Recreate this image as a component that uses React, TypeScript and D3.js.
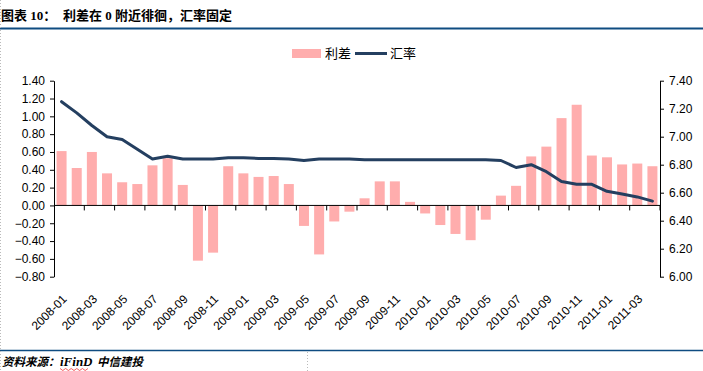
import React, { useEffect, useRef } from 'react';
import * as d3 from 'd3';

// monthly categories 2008-01 .. 2011-04
const months: string[] = [
  '2008-01', '2008-02', '2008-03', '2008-04', '2008-05', '2008-06', '2008-07', '2008-08', '2008-09', '2008-10', '2008-11', '2008-12',
  '2009-01', '2009-02', '2009-03', '2009-04', '2009-05', '2009-06', '2009-07', '2009-08', '2009-09', '2009-10', '2009-11', '2009-12',
  '2010-01', '2010-02', '2010-03', '2010-04', '2010-05', '2010-06', '2010-07', '2010-08', '2010-09', '2010-10', '2010-11', '2010-12',
  '2011-01', '2011-02', '2011-03', '2011-04',
];

// 利差 (left axis)
const spread: number[] = [
  0.61, 0.42, 0.60, 0.36, 0.26, 0.24, 0.45, 0.53, 0.23, -0.62, -0.53, 0.44,
  0.36, 0.32, 0.33, 0.24, -0.23, -0.55, -0.18, -0.07, 0.08, 0.27, 0.27, 0.04,
  -0.09, -0.22, -0.32, -0.39, -0.16, 0.11, 0.22, 0.55, 0.66, 0.98, 1.13, 0.56,
  0.54, 0.46, 0.47, 0.44,
];

// 汇率 (right axis)
const rate: number[] = [
  7.25, 7.17, 7.08, 7.00, 6.98, 6.91, 6.84, 6.86, 6.84, 6.84, 6.84, 6.85,
  6.85, 6.845, 6.845, 6.84, 6.83, 6.84, 6.84, 6.84, 6.835, 6.835, 6.835, 6.835,
  6.835, 6.835, 6.835, 6.835, 6.835, 6.83, 6.78, 6.80, 6.75, 6.68, 6.66, 6.66,
  6.61, 6.59, 6.57, 6.54,
];

const leftTicks: number[] = [-0.8, -0.6, -0.4, -0.2, 0, 0.2, 0.4, 0.6, 0.8, 1.0, 1.2, 1.4];
const rightTicks: number[] = [6.0, 6.2, 6.4, 6.6, 6.8, 7.0, 7.2, 7.4];

const titleNo = '图表 10：';
const titleText = '利差在 0 附近徘徊，汇率固定';
const sourceLabel = '资料来源：';
const sourceNames: string[] = ['iFinD', '中信建投'];

const App = () => {
  const ref = useRef<SVGSVGElement>(null);

  useEffect(() => {
    const svg = d3.select(ref.current);
    svg.selectAll('*').remove();

    const width = 703;
    const height = 371;
    const left = 54;
    const right = 660;
    const top = 80.7;
    const bottom = 276.7;
    const axisFont = 'Arial, "Liberation Sans", sans-serif';
    const headFont = '"Liberation Serif", "Noto Sans CJK SC", serif';
    const blue = '#0f4c81';

    const x = d3.scaleBand<string>()
      .domain(months)
      .range([left, right])
      .paddingInner(0.34)
      .paddingOuter(0.17);

    const yL = d3.scaleLinear().domain([-0.8, 1.4]).range([bottom, top]);
    const yR = d3.scaleLinear().domain([6.0, 7.4]).range([bottom, top]);

    svg.append('rect').attr('width', width).attr('height', height).attr('fill', '#fff');

    // header
    const head = svg.append('g')
      .attr('font-family', headFont)
      .attr('font-weight', 'bold')
      .attr('font-size', 13)
      .attr('fill', '#000');
    head.append('text').attr('x', 1).attr('y', 20).text(titleNo);
    head.append('text').attr('x', 63).attr('y', 20).text(titleText);

    svg.append('line')
      .attr('x1', 0).attr('x2', width)
      .attr('y1', 28.5).attr('y2', 28.5)
      .attr('stroke', blue)
      .attr('stroke-width', 2.2);

    // legend
    const legend = svg.append('g').attr('font-family', '"Noto Sans CJK SC", sans-serif').attr('font-size', 13);
    legend.append('rect').attr('x', 292).attr('y', 49).attr('width', 29).attr('height', 9).attr('fill', '#ffadad');
    legend.append('text').attr('x', 325).attr('y', 58).text('利差');
    legend.append('line').attr('x1', 355).attr('x2', 387).attr('y1', 53.5).attr('y2', 53.5)
      .attr('stroke', '#243f60').attr('stroke-width', 3);
    legend.append('text').attr('x', 390).attr('y', 58).text('汇率');

    // bars
    svg.append('g')
      .selectAll('rect')
      .data(spread)
      .join('rect')
      .attr('x', (_, i) => x(months[i])!)
      .attr('width', x.bandwidth())
      .attr('y', d => yL(Math.max(0, d)))
      .attr('height', d => Math.abs(yL(d) - yL(0)))
      .attr('fill', '#ffadad');

    // left axis
    const gL = svg.append('g')
      .attr('transform', `translate(${left},0)`)
      .call(d3.axisLeft(yL).tickValues(leftTicks).tickFormat(d3.format('.2f')).tickSize(4).tickSizeOuter(0));
    gL.selectAll('text').attr('font-family', axisFont).attr('font-size', 12).attr('fill', '#000').attr('dx', -2);
    gL.selectAll('line, path').attr('stroke', '#000');

    // right axis
    const gR = svg.append('g')
      .attr('transform', `translate(${right},0)`)
      .call(d3.axisRight(yR).tickValues(rightTicks).tickFormat(d3.format('.2f')).tickSize(4).tickSizeOuter(0));
    gR.selectAll('text').attr('font-family', axisFont).attr('font-size', 12).attr('fill', '#000').attr('dx', 2);
    gR.selectAll('line, path').attr('stroke', '#000');

    // category axis on zero line
    const zero = yL(0);
    svg.append('line')
      .attr('x1', left).attr('x2', right)
      .attr('y1', zero).attr('y2', zero)
      .attr('stroke', '#000');

    const step = x.step();
    const boundaries = d3.range(2, months.length + 1, 2).map(i => left + i * step);
    svg.append('g')
      .selectAll('line')
      .data(boundaries)
      .join('line')
      .attr('x1', d => d).attr('x2', d => d)
      .attr('y1', zero).attr('y2', zero + 5)
      .attr('stroke', '#000');

    svg.append('g')
      .selectAll('text')
      .data(months.filter((_, i) => i % 2 === 0))
      .join('text')
      .attr('transform', d => `translate(${x(d)! + x.bandwidth() / 2 + 6},${bottom + 23}) rotate(-45)`)
      .attr('text-anchor', 'end')
      .attr('font-family', axisFont)
      .attr('font-size', 12)
      .attr('fill', '#000')
      .text(d => d);

    // rate line
    const line = d3.line<number>()
      .x((_, i) => x(months[i])! + x.bandwidth() / 2)
      .y(d => yR(d));

    svg.append('path')
      .datum(rate)
      .attr('fill', 'none')
      .attr('stroke', '#243f60')
      .attr('stroke-width', 3)
      .attr('stroke-linejoin', 'round')
      .attr('stroke-linecap', 'round')
      .attr('d', line);

    // footer
    svg.append('line')
      .attr('x1', 0).attr('x2', width)
      .attr('y1', 350.5).attr('y2', 350.5)
      .attr('stroke', blue)
      .attr('stroke-width', 1.5);

    svg.append('line')
      .attr('x1', 307.5).attr('x2', 307.5)
      .attr('y1', 352).attr('y2', height)
      .attr('stroke', '#bbb')
      .attr('stroke-dasharray', '1,2');

    svg.append('line')
      .attr('x1', 0.5).attr('x2', 0.5)
      .attr('y1', 0).attr('y2', height)
      .attr('stroke', '#bbb')
      .attr('stroke-dasharray', '1,2');

    const foot = svg.append('text')
      .attr('x', 2)
      .attr('y', 366)
      .attr('font-family', headFont)
      .attr('font-weight', 'bold')
      .attr('font-style', 'italic')
      .attr('font-size', 11.5)
      .attr('fill', '#000');
    foot.append('tspan').text(sourceLabel);
    foot.append('tspan').attr('x', 60).attr('font-size', 13).text(sourceNames[0]);
    foot.append('tspan').attr('x', 97).text(sourceNames[1]);

    // spell-check squiggle under the source name
    const squiggle = d3.range(0, 11).map(i => [60 + i * 2.8, i % 2 === 0 ? 368.5 : 370.5] as [number, number]);
    svg.append('path')
      .attr('d', d3.line()(squiggle))
      .attr('fill', 'none')
      .attr('stroke', '#e33')
      .attr('stroke-width', 0.8);
  }, []);

  return (
    <svg
      ref={ref}
      width={703}
      height={371}
      style={{ position: 'absolute', left: 0, top: 0, display: 'block' }}
    />
  );
};

export default App;
